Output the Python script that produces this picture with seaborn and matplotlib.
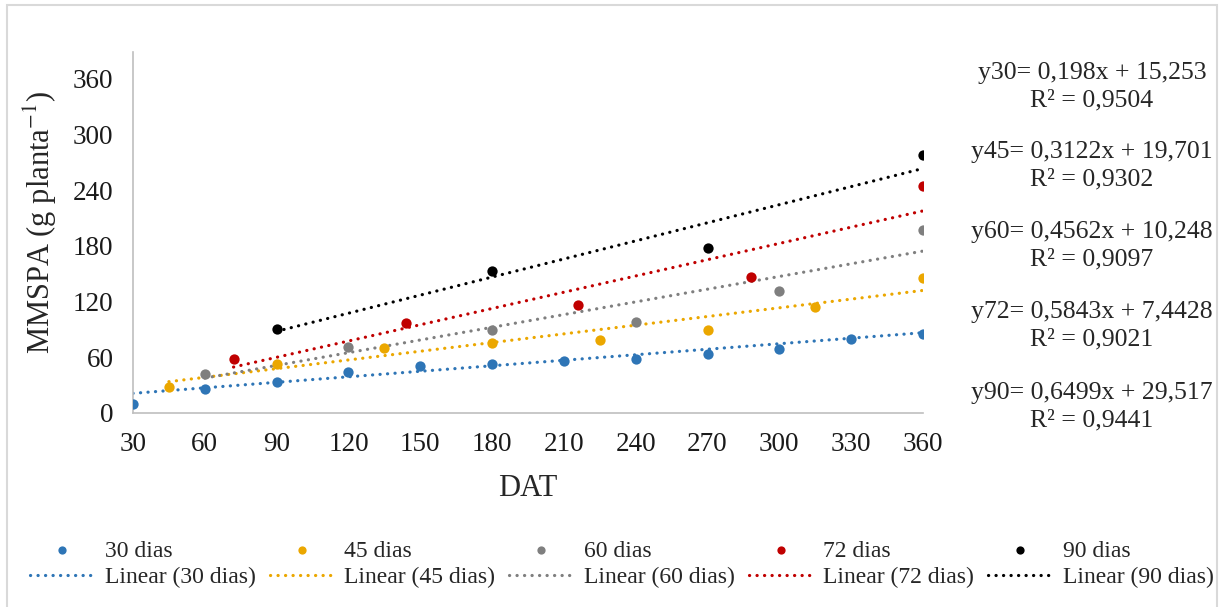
import numpy as np
import pandas as pd
import matplotlib.pyplot as plt
import seaborn as sns
from matplotlib.patches import Rectangle

# data
series_names = ["30 dias", "45 dias", "60 dias", "72 dias", "90 dias"]
series_colors = ["#2E75B6", "#EBA700", "#7F7F7F", "#C00000", "#000000"]

x30 = [30, 60, 90, 120, 150, 180, 210, 240, 270, 300, 330, 360]
y30 = [10, 26, 33, 44, 51, 52.5, 56.5, 58, 63.5, 69, 80, 85.5]
x45 = [45, 90, 135, 180, 225, 270, 315, 360]
y45 = [28.5, 52.5, 70.5, 75, 78.5, 89.5, 114, 145]
x60 = [60, 120, 180, 240, 300, 360]
y60 = [42, 71.5, 89.5, 98.5, 131.5, 197]
x72 = [72, 144, 216, 288, 360]
y72 = [58, 96.5, 116.5, 147, 244.5]
x90 = [90, 180, 270, 360]
y90 = [91, 153.5, 177.5, 278]

xs_all = [x30, x45, x60, x72, x90]
ys_all = [y30, y45, y60, y72, y90]

# trend line coefficients as printed on the chart
slopes = [0.198, 0.3122, 0.4562, 0.5843, 0.6499]
intercepts = [15.253, 19.701, 10.248, 7.4428, 29.517]
eq_labels = ["y30= 0,198x + 15,253\nR² = 0,9504",
             "y45= 0,3122x + 19,701\nR² = 0,9302",
             "y60= 0,4562x + 10,248\nR² = 0,9097",
             "y72= 0,5843x + 7,4428\nR² = 0,9021",
             "y90= 0,6499x + 29,517\nR² = 0,9441"]

x_ticks = list(range(30, 361, 30))
y_ticks = list(range(0, 361, 60))

sns.set_style("white")
plt.rcParams['font.family'] = ['Liberation Serif', 'DejaVu Serif']
plt.rcParams['mathtext.fontset'] = 'stix'

W, H = 1227, 607
fig = plt.figure(figsize=(W / 100, H / 100), dpi=100)
ax = fig.add_axes([133 / W, 1 - 413 / H, 790 / W, 361 / H])

for name, col, xs, ys, m, b in zip(series_names, series_colors, xs_all, ys_all,
                                   slopes, intercepts):
    pts = pd.DataFrame({"DAT": xs, "MMSPA": ys})
    sns.scatterplot(data=pts, x="DAT", y="MMSPA", color=col, s=55,
                    linewidth=0, zorder=3, label=name, ax=ax)
    xl = np.array([xs[0], xs[-1]], dtype=float)
    fit = pd.DataFrame({"DAT": xl, "MMSPA": m * xl + b})
    sns.lineplot(data=fit, x="DAT", y="MMSPA", color=col, lw=2.3,
                 label="Linear (%s)" % name, zorder=2, ax=ax)

# round-dot style for the trend lines
for ln in ax.lines:
    ln.set_linestyle((0, (0.05, 2.3)))
    ln.set_dash_capstyle("round")

ax.set_xlim(30, 360)
ax.set_ylim(0, 389)
ax.set_xticks(x_ticks)
ax.set_yticks(y_ticks)
ax.set_xlabel("")
ax.set_ylabel("")
sns.despine(ax=ax)
for sp in ["left", "bottom"]:
    ax.spines[sp].set_color("#BFBFBF")
    ax.spines[sp].set_linewidth(1.2)
ax.tick_params(direction="in", length=6, width=1.2, color="#BFBFBF",
               labelsize=19.5, labelcolor="#1a1a1a")
ax.tick_params(axis="x", pad=14)
ax.tick_params(axis="y", pad=14)

fig.text(528 / W, 1 - 496 / H, "DAT", ha="center", va="baseline", fontsize=22)
fig.text(40 / W, 1 - 222 / H, "MMSPA (g planta$^{-1}$)", rotation=90,
         ha="center", va="center", fontsize=22)

eq_centers = [87, 166, 246, 326, 407]
for txt, yc in zip(eq_labels, eq_centers):
    fig.text(1092 / W, 1 - yc / H, txt, ha="center", va="center",
             multialignment="center", fontsize=18.5, linespacing=1.3)

# legend: points on first row, trend lines on second
h, l = ax.get_legend_handles_labels()
ax.get_legend().remove()
order = []
for i in range(5):
    order += [2 * i, 2 * i + 1]
leg = fig.legend([h[i] for i in order], [l[i] for i in order], ncol=5,
                 loc="center", bbox_to_anchor=(622 / W, 1 - 564 / H),
                 frameon=False, fontsize=17, handlelength=2.7,
                 handletextpad=0.45, columnspacing=0.6, labelspacing=0.2,
                 markerscale=0.8)
for ln in leg.get_lines():
    ln.set_dash_capstyle("round")

fig.add_artist(Rectangle((7 / W, -0.01), (1217 - 7) / W, 1 - 5 / H + 0.01,
                         transform=fig.transFigure, fill=False,
                         edgecolor="#D9D9D9", lw=1.5))

fig.savefig("out.png", dpi=100)
